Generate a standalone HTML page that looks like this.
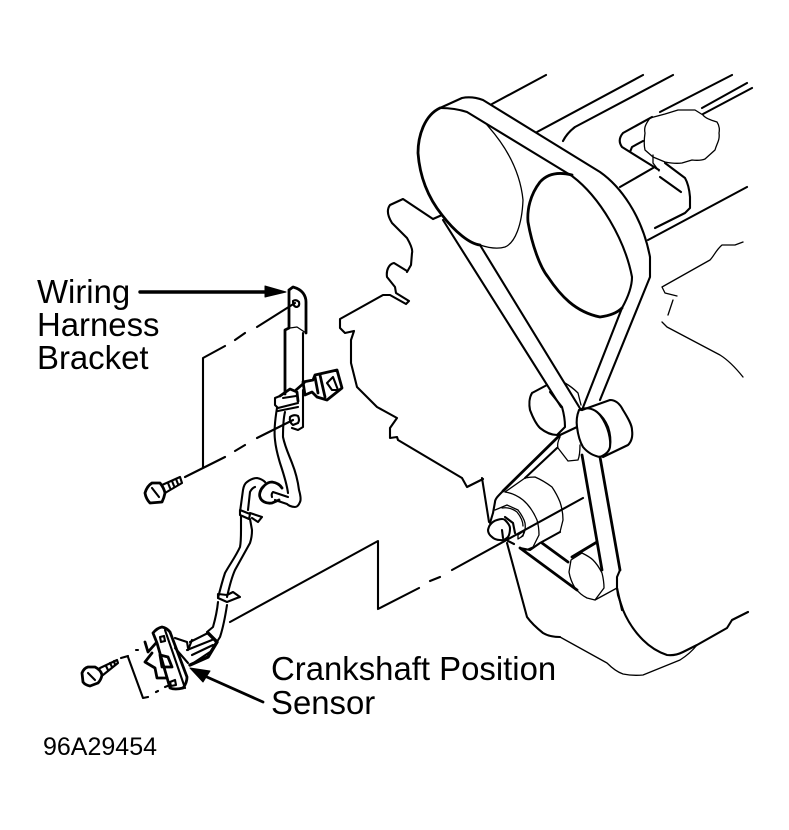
<!DOCTYPE html>
<html><head><meta charset="utf-8"><style>
html,body{margin:0;padding:0;background:#fff}
svg{display:block}
text{font-family:"Liberation Sans",sans-serif;fill:#000}
.t{font-size:32.9px}
path{fill:none;stroke:#000;stroke-linejoin:round;stroke-linecap:round}
.a{stroke-width:2.1}.b{stroke-width:1.3}.c{stroke-width:2.8}.d{stroke-width:3.4}
path.w{fill:#fff}
path.k{fill:#000}
</style></head><body>
<svg width="789" height="830" viewBox="0 0 789 830" xmlns="http://www.w3.org/2000/svg">
<!-- engine top lines -->
<path class="a" d="M492 104L546 75M537 132L643 75M563 141Q567 133 575 127L673 75M660 112L732 75M702 108L747 83M703 114L752 88"/>
<path class="a" d="M652 117L623 133Q617 140 622 147L659 170M643 141L632 147L630 152"/>
<path class="a" d="M665 163L685 178Q689 185 690 197V208L685 213L655 228M660 177L681 192"/>
<path class="a" d="M653 168L620 187M648 240L747 187"/>
<path class="b" d="M650 118C645 125 644 128 645 133C644 140 644 146 645 150L653 157L665 162Q675 164 682 163L692 160Q700 161 705 159L715 150C717 143 720 140 719 133C720 128 719 125 717 122C710 120 705 118 703 115L695 110H678L665 114Z"/>
<path class="b" d="M653 155V163L659 171"/>
<!-- right engine contour -->
<path class="b" d="M743 242L735 245H722C716 250 714 256 710 260L662 287L665 293L677 296M673 300L668 315M662 322L667 327L720 355C728 360 735 367 743 377"/>
<!-- belt -->
<path class="a" d="M440 108L462 98Q472 96 483 100L600 172C620 186 642 215 650 257V277L600 400"/>
<path class="a" d="M440 108Q455 108 467 112L572 176C600 197 625 240 632 277Q632 290 622 308L582 410"/>
<path class="c" d="M440 108C425 115 418 135 418 153C420 180 430 200 442 215C455 232 470 244 480 245"/>
<path class="b" d="M480 245Q495 250 505 247C515 243 522 225 523 200C520 170 505 145 487 125"/>
<path class="c" d="M572 175C560 172 548 173 540 182C530 195 527 210 528 222C532 245 540 267 548 277C560 295 575 312 600 317Q615 315 622 308"/>
<path class="a" d="M443 220L561 407M480 245L581 410"/>
<!-- left contour -->
<path class="a" d="M433 219L442 215M433 219L403 199L390 205C387 209 387 215 392 223L407 238C411 245 413 250 412 253L411 265L407 272"/>
<path class="a" d="M407 271L394 263C389 264 386 270 387 277L395 287L396 293L409 301L406 304L390 295H383L340 319V328L345 333L354 331L351 340V363L357 387L377 407L397 418L390 428V438L397 437L398 440L462 478L467 487L483 479"/>
<path class="a" d="M482 478L489 522"/>
<!-- idler pulleys -->
<path class="a" d="M532 393L547 385M532 393C529 398 529 405 530 410C533 418 536 424 540 428C545 432 551 435 557 435L565 427C565 420 564 414 562 407L550 392"/>
<path class="b" d="M565 383C572 387 576 391 578 393L581 405"/>
<path class="a" d="M579 410C577 415 576 420 577 427C578 435 580 442 583 447C588 453 594 456 600 457C605 455 609 452 610 447C611 440 610 433 608 427C605 420 602 416 597 412C592 408 585 407 579 410Z"/>
<path class="a" d="M582 410L610 400Q618 400 623 410C628 418 632 425 632 430C633 437 631 442 628 445L603 457"/>
<path class="b" d="M597 412C604 420 610 432 610 447"/>
<path class="b" d="M560 437C558 441 557 445 558 448L568 461L578 460C580 455 580 450 580 445"/>
<path class="c" d="M503 491L560 435"/>
<path class="a" d="M525 478L557 448M560 435L577 427"/>
<path class="c" d="M582 455L602 570M600 457L620 570"/>
<path class="a" d="M620 570L617 577V588L622 610"/>
<!-- crank pulley -->
<path class="a" d="M502 492C498 496 495 499 495 502L493 513L490 523"/>
<path class="b" d="M505 492L525 478Q530 477 535 477C542 480 548 484 552 487C556 493 558 497 560 502Q563 511 563 520L560 532"/>
<path class="a" d="M560 532L540 543L530 550L520 548M508 541L514 544"/>
<path class="b" d="M505 492C512 493 518 496 523 500C530 506 534 513 537 520C539 527 539 531 539 535L533 547L526 550"/>
<path class="b" d="M495 510L507 505L518 510C521 514 524 519 525 523C526 530 524 535 521 537"/>
<path class="b" d="M502 508C508 507 513 509 517 512C521 517 523 521 523 526"/>
<path class="a" d="M497 520Q503 518 505 520C508 523 510 526 510 528Q510 534 508 537Q504 541 500 540Q495 540 492 537Q488 534 488 530Q489 526 490 525Q493 521 497 520Z"/>
<path class="a" d="M505 517L513 523L515 533M502 530L503 538"/>
<path class="b" d="M518 535L524 531L523 536L518 539Z"/>
<!-- axis dash line -->
<path class="a" d="M452 570L583 498M430 581L440 577M378 609L419 588M378 609V541L230 622"/>
<!-- lower belts -->
<path class="c" d="M520 548L577 590M542 543L568 562M572 557L597 542"/>
<path class="b" d="M571 560L569 572C570 578 572 583 575 588C579 593 583 596 587 598L595 600L604 588C604 582 603 577 602 573C599 567 596 563 593 560C590 557 586 555 582 553L571 560Z"/>
<path class="b" d="M595 600L617 588"/>
<!-- lower engine -->
<path class="a" d="M507 543L527 617C532 624 538 629 543 633C548 636 553 637 560 637"/>
<path class="b" d="M560 637L607 663C612 668 617 672 623 674Q633 676 643 675L680 660C688 655 693 650 697 645"/>
<path class="a" d="M617 588L618 595L623 610C628 622 635 632 643 640C650 647 658 652 667 655Q675 656 683 652L697 645L727 628L732 620L748 612"/>
<!-- arrow harness -->
<path class="d" d="M140 292H268"/>
<path class="k" d="M265 286L286 292L265 297Z"/>
<!-- bracket dash lines -->
<path class="a" d="M295 303L257 327M245 333L235 340M225 346L203 358V467M225 457L185 477M245 445L235 451M293 420L257 438"/>
<!-- bracket -->
<path class="c" d="M289 290L293 287Q300 289 303 293Q306 297 306 302V333M289 290V328L285 330V394"/>
<path class="b" d="M290 328L297 327L306 333"/>
<path class="a" d="M303 333V385M303 390V427L298 430L292 428"/>
<path class="a" d="M293 301Q296 299 299 302Q300 306 297 307Q293 307 293 301Z"/>
<!-- clamp -->
<path class="c" d="M280 396L290 389L297 392L298 401"/>
<path class="a" d="M280 396L275 398V405L278 408L298 403M278 411L298 407M283 398L296 396"/>
<path class="a" d="M290 417Q294 414 298 416Q300 420 298 423L293 425Q289 422 290 417Z"/>
<path class="c" d="M296 390L304 383"/>
<!-- connector -->
<path class="c" d="M303 382L313 380L315 375L337 370L342 388L327 400L317 397L312 392L305 395Z"/>
<path class="a" d="M327 383L333 377L338 390H332Z"/>
<path class="c" d="M315 377L318 393M320 375L325 397"/>
<!-- wire -->
<path class="a" d="M277 408C275 420 274 432 275 440C276 450 278 456 280 463C284 475 287 485 288 493"/>
<path class="a" d="M285 412C283 420 283 430 283 437C285 447 289 455 292 463C296 473 298 482 299 490C301 497 301 500 300 502Q298 507 295 507C291 507 288 505 287 504L275 500"/>
<path class="a" d="M272 497Q271 494 273 492L288 497"/>
<path class="c" d="M263 487C260 490 259 495 260 497C261 501 266 504 272 503L279 500"/>
<path class="c" d="M263 487Q267 482 272 482Q279 483 282 488"/>
<path class="a" d="M243 490Q244 484 247 482Q252 478 257 478Q262 479 265 482M243 490L240 512M250 492Q252 488 255 487M250 492L248 510"/>
<path class="a" d="M240 510L250 514L249 519L240 515ZM250 513L262 517L258 522L252 518"/>
<path class="a" d="M241 516V530C241 536 241 542 240 547C236 556 230 564 225 573C222 582 220 590 218 598M250 519L252 530C252 535 251 540 250 543C245 552 240 561 235 570C231 579 229 588 227 597"/>
<path class="a" d="M218 598L227 602L237 598L240 597L233 592L227 595L218 594Z"/>
<path class="a" d="M218 602C217 612 215 620 213 627L207 632M227 605C225 618 223 628 220 637L215 645"/>
<!-- fan -->
<path class="d" d="M208 633L217 642L208 657L190 665"/>
<path class="a" d="M190 642L208 633M187 650L212 640M192 655L213 645M195 662L210 652M192 640L188 650"/>
<!-- sensor plate -->
<path class="c" d="M153 633Q157 628 162 627Q167 628 170 632L187 677Q187 683 183 688Q175 690 170 688L157 643Z"/>
<path class="a" d="M165 630L185 688"/>
<path class="a" d="M160 637L164 636L165 641L161 642Z"/>
<path class="a" d="M170 682L175 680L176 685L171 686Z"/>
<path class="c" d="M145 642L148 652L156 643M152 653L145 662L155 668L157 678H167"/>
<path class="c" d="M160 655L168 657L172 667H162Z"/>
<path class="a" d="M175 638L187 642L188 648M175 648L188 663"/>
<!-- sensor dashes -->
<path class="a" d="M121 658L128 656M136 650H138M128 657L143 698L148 697M156 692L158 691M165 687L170 685"/>
<!-- sensor arrow -->
<path class="c" d="M263 702L198 673"/>
<path class="k" d="M190 668L210 671L203 682Z"/>
<!-- lower bolt -->
<path class="c" d="M82 673Q84 668 88 667H95Q101 670 102 675Q101 680 98 683L90 686Q85 685 83 682Z"/>
<path class="a" d="M88 673L95 680M100 668L117 660L118 663L103 675"/>
<path class="a" d="M106 666L108 670M110 663L112 667M114 661L115 665"/>
<!-- upper bolt -->
<path class="c" d="M145 493Q147 486 152 483H160Q164 488 165 493Q164 498 162 502L150 503Q146 499 145 493Z"/>
<path class="a" d="M152 488L159 497M162 485L180 477L182 483L165 493"/>
<path class="a" d="M168 483L170 488M172 481L174 486M176 479L178 484"/>
<!-- labels -->
<text class="t" x="37" y="303">Wiring</text>
<text class="t" x="37" y="336">Harness</text>
<text class="t" x="37" y="369">Bracket</text>
<text class="t" x="271" y="680">Crankshaft Position</text>
<text class="t" x="271" y="714">Sensor</text>
<text x="43" y="755" font-size="25">96A29454</text>
</svg>
</body></html>
